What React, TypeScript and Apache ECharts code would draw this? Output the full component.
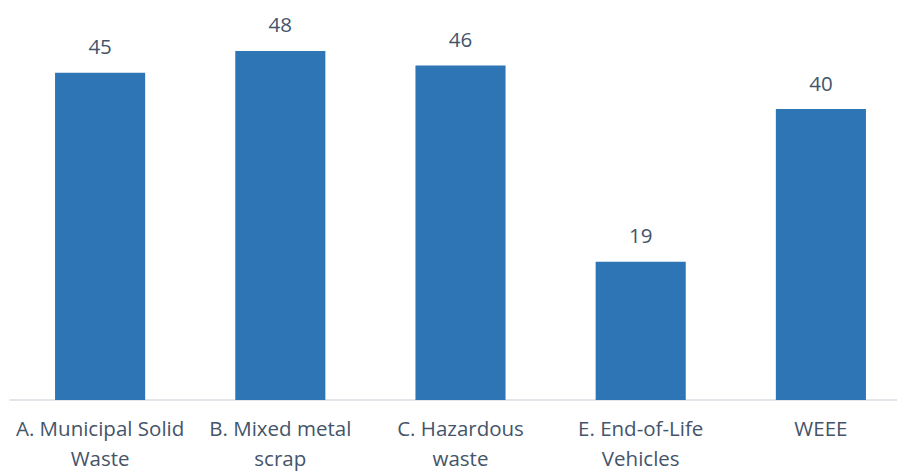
import React, { useEffect, useRef } from "react";
import * as echarts from "echarts";

const categories = [
  "A. Municipal Solid\nWaste",
  "B. Mixed metal\nscrap",
  "C. Hazardous\nwaste",
  "E. End-of-Life\nVehicles",
  "WEEE",
];
const values = [45, 48, 46, 19, 40];

const FONT = "'Open Sans', Lato, sans-serif";

export default function App() {
  const ref = useRef<HTMLDivElement>(null);
  useEffect(() => {
    if (!ref.current) return;
    const chart = echarts.init(ref.current, undefined, { renderer: "svg" });
    chart.setOption({
      animation: false,
      textStyle: { fontFamily: FONT },
      grid: {
        left: 10,
        right: 0,
        top: 0,
        bottom: 71,
        containLabel: false,
        outerBoundsMode: "none",
      },
      xAxis: {
        type: "category",
        data: categories,
        axisLine: { show: true, lineStyle: { color: "#d9dde3", width: 1.5 } },
        axisTick: { show: false },
        axisLabel: {
          interval: 0,
          color: "#44546a",
          fontSize: 20.5,
          lineHeight: 30,
          margin: 13,
          fontFamily: FONT,
        },
      },
      yAxis: {
        type: "value",
        min: 0,
        max: 55,
        show: false,
        splitLine: { show: false },
      },
      series: [
        {
          type: "bar",
          data: values,
          barWidth: "50%",
          itemStyle: { color: "#2e75b6" },
          label: {
            show: true,
            position: "top",
            distance: 16,
            color: "#44546a",
            fontSize: 20.5,
            fontFamily: FONT,
          },
        },
      ],
    });
    return () => chart.dispose();
  }, []);
  return (
    <div style={{ width: 897, height: 471, position: "absolute", left: 0, top: 0, overflow: "hidden" }}>
      <div ref={ref} style={{ width: 911, height: 471 }} />
    </div>
  );
}
